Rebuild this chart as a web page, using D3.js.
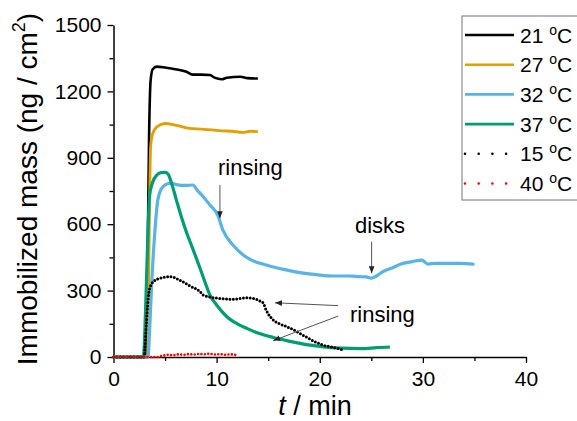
<!DOCTYPE html>
<html><head><meta charset="utf-8">
<script src="https://cdn.jsdelivr.net/npm/d3@7/dist/d3.min.js"></script>
<style>
body{margin:0;background:#fff}
svg text{font-family:Arial,"Liberation Sans",sans-serif;fill:#000}
</style>
</head><body>
<svg id="chart" width="577" height="421"></svg>
<script>
// ---------- data (t in min, mass in ng/cm2) ----------
const t21 = [0,3.1,3.3,3.45,3.6,3.8,4.2,5,6,6.4,7,7.7,8.5,9.35,9.8,10.5,11,12.3,13,14];
const m21 = [0,0,400,1000,1250,1300,1312,1308,1300,1297,1290,1276,1276,1274,1262,1255,1262,1266,1260,1258];

const t27 = [0,3.3,3.4,3.5,3.6,3.8,4.2,5,6,7.4,8.5,9.6,10.5,11.5,12.5,13.3,14];
const m27 = [0,0,300,700,950,1010,1040,1055,1048,1033,1030,1026,1022,1020,1015,1020,1018];

const t32 = [0,3.35,3.5,3.7,4.0,4.3,4.8,5.5,6.2,7.0,7.7,8.1,8.7,9.35,10.1,10.6,11.6,12.4,13.2,14.8,16.5,18.1,19.7,21.3,22.9,23.9,24.5,25.0,25.5,26.1,27,27.8,29,29.9,30.5,31.2,32,33.6,35];
const m32 = [0,0,120,330,560,710,770,785,778,775,777,755,724,687,642,574,505,468,442,416,396,381,372,366,366,363,362,356,366,385,402,419,431,438,420,423,423,423,419];

const t37 = [0,2.9,3.1,3.3,3.5,3.8,4.2,4.6,5.0,5.3,5.6,6.1,6.6,7.1,7.6,8.0,8.4,8.9,9.35,10,11,12,12.9,14,15.5,17,18.7,20,22,24,25.5,26.8];
const m37 = [0,0,200,500,730,790,822,833,834,826,790,709,630,560,500,450,400,335,280,235,182,150,130,108,88,72,56,48,40,38,42,45];

const t15 = [0,2.95,3.05,3.2,3.35,3.5,3.85,4.5,5.5,6.4,7.4,8.4,8.7,10,11.6,12.9,13.8,14.2,14.5,14.8,15.5,16.1,16.8,17.5,18.4,19.5,20.3,21.3,22.4];
const m15 = [0,0,47,160,258,307,340,356,363,348,321,295,280,266,261,268,262,253,245,212,167,150,137,122,98,70,54,44,30];

const t40 = [0,4.2,4.8,5.3,5.8,6.3,6.8,7.3,7.8,8.3,8.8,9.3,9.8,10.3,10.8,11.3,11.9];
const m40 = [0,0,6,10,8,12,10,13,11,14,12,15,11,13,10,12,9];

const seriesLabels = ["21","27","32","37","15","40"];
const xTicks = [0,10,20,30,40];
const xMinor = [5,15,25,35];
const yTicks = [0,300,600,900,1200,1500];
const yMinor = [150,450,750,1050,1350];

// ---------- styles ----------
const styles = {
  "21": {color:"#000000", width:2.6, dash:null},
  "27": {color:"#E69F00", width:2.8, dash:null},
  "32": {color:"#56B4E9", width:3.2, dash:null},
  "37": {color:"#009E73", width:3.2, dash:null},
  "15": {color:"#000000", width:3.0, dash:"0,3.4"},
  "40": {color:"#FF0000", width:2.6, dash:"0,3.4"}
};
const seriesData = {
  "21":[t21,m21], "27":[t27,m27], "32":[t32,m32],
  "37":[t37,m37], "15":[t15,m15], "40":[t40,m40]
};

const svg = d3.select("#chart");
svg.append("rect").attr("width",577).attr("height",421).attr("fill","#fff");

const x = d3.scaleLinear().domain([0,40]).range([113.5,526]);
const y = d3.scaleLinear().domain([0,1500]).range([357,25]);

// axes
const gx = svg.append("g").attr("transform","translate(0,357)")
  .call(d3.axisBottom(x).tickValues(xTicks).tickFormat(d3.format("d")).tickSize(6).tickSizeOuter(0).tickPadding(8));
const gxm = svg.append("g").attr("transform","translate(0,357)")
  .call(d3.axisBottom(x).tickValues(xMinor).tickSize(4).tickFormat(""));
const gy = svg.append("g").attr("transform","translate(113.5,0)")
  .call(d3.axisLeft(y).tickValues(yTicks).tickFormat(d3.format("d")).tickSize(6).tickSizeOuter(0).tickPadding(6));
const gym = svg.append("g").attr("transform","translate(113.5,0)")
  .call(d3.axisLeft(y).tickValues(yMinor).tickSize(4).tickFormat(""));
[gx,gxm,gy,gym].forEach(g=>{
  g.selectAll("path.domain").attr("stroke","#000").attr("stroke-width",1.5);
  g.selectAll(".tick line").attr("stroke","#000").attr("stroke-width",1.3);
  g.selectAll(".tick text").attr("font-size",21).attr("font-family","Arial, 'Liberation Sans', sans-serif").attr("fill","#000");
});
gxm.select("path.domain").remove();
gym.select("path.domain").remove();

// curves
const line = d3.line().curve(d3.curveMonotoneX).x(d=>x(d[0])).y(d=>y(d[1]));
seriesLabels.forEach(k=>{
  const [tt,mm] = seriesData[k];
  const pts = tt.map((t,i)=>[t,mm[i]]);
  const s = styles[k];
  const p = svg.append("path").datum(pts).attr("d",line)
    .attr("fill","none").attr("stroke",s.color).attr("stroke-width",s.width)
    .attr("stroke-linejoin","round");
  if (s.dash) p.attr("stroke-dasharray",s.dash).attr("stroke-linecap","round");
});

// annotations (data coordinates)
const annoText = [
  {txt:"rinsing", t:10.13, m:822},
  {txt:"disks", t:23.41, m:559},
  {txt:"rinsing", t:22.93, m:160}
];
const arrows = [
  {t1:10.32,m1:777,t2:10.32,m2:627},
  {t1:25.03,m1:521,t2:25.03,m2:378},
  {t1:21.79,m1:232,t2:15.66,m2:245},
  {t1:21.79,m1:185,t2:15.49,m2:74}
];
const defs = svg.append("defs");
defs.append("marker").attr("id","ah").attr("viewBox","0 0 10 10")
  .attr("refX",10).attr("refY",5).attr("markerWidth",7).attr("markerHeight",7)
  .attr("markerUnits","userSpaceOnUse").attr("orient","auto")
  .append("path").attr("d","M0,1 L10,5 L0,9 Z").attr("fill","#222");
arrows.forEach(a=>{
  svg.append("line").attr("x1",x(a.t1)).attr("y1",y(a.m1)).attr("x2",x(a.t2)).attr("y2",y(a.m2))
    .attr("stroke","#555").attr("stroke-width",1).attr("marker-end","url(#ah)");
});
annoText.forEach(a=>{
  svg.append("text").attr("x",x(a.t)).attr("y",y(a.m)).attr("font-size",22).text(a.txt);
});

// axis titles
svg.append("text").attr("transform","translate(37,189) rotate(-90)")
  .attr("text-anchor","middle").attr("font-size",28)
  .call(t=>{
    t.append("tspan").text("Immobilized mass (ng / cm");
    t.append("tspan").attr("font-size",18).attr("dy",-12).text("2");
    t.append("tspan").attr("dy",12).text(")");
  });
svg.append("text").attr("x",315).attr("y",415).attr("text-anchor","middle").attr("font-size",27)
  .call(t=>{
    t.append("tspan").attr("font-style","italic").text("t");
    t.append("tspan").text(" / min");
  });

// legend
const lg = svg.append("g");
lg.append("rect").attr("x",462).attr("y",16).attr("width",130).attr("height",184)
  .attr("fill","#fff").attr("stroke","#777").attr("stroke-width",1);
seriesLabels.forEach((k,i)=>{
  const yy = 35 + i*29.7;
  const s = styles[k];
  const l = lg.append("line").attr("x1",465).attr("x2",514).attr("y1",yy).attr("y2",yy)
    .attr("stroke",s.color).attr("stroke-width",2.6);
  if (s.dash) l.attr("stroke-dasharray","0,13.7").attr("stroke-linecap","round");
  const tx = lg.append("text").attr("x",520).attr("y",yy+7.5).attr("font-size",21);
  tx.append("tspan").text(k+" ");
  tx.append("tspan").attr("font-size",14).attr("dy",-8).text("o");
  tx.append("tspan").attr("dy",8).text("C");
});
</script>
</body></html>
